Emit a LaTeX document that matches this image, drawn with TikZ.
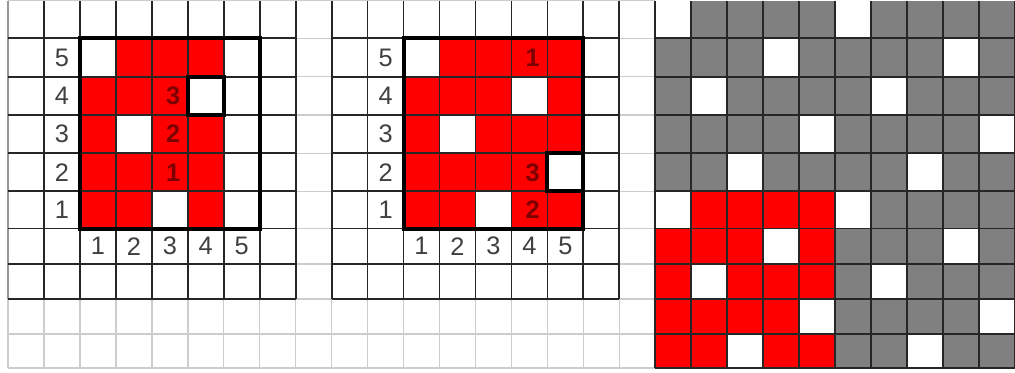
\documentclass[tikz,border=0pt]{standalone}
\usepackage{fontspec}
\setmainfont{Liberation Sans}
\usetikzlibrary{calc}
\definecolor{cellred}{RGB}{255,0,0}
\definecolor{cellgray}{RGB}{128,128,128}
\definecolor{lightline}{RGB}{205,205,205}
\definecolor{midline}{RGB}{150,150,150}
\definecolor{labelred}{RGB}{125,0,0}
\begin{document}
\begin{tikzpicture}[x=0.75pt,y=-0.75pt,
  darkline/.style={line width=1.3pt,black!85},
  softline/.style={line width=1.1pt,lightline},
  edgeline/.style={line width=1.2pt,midline},
  blockborder/.style={line width=3pt,black,line join=miter},
  axislabel/.style={font=\fontsize{19}{21}\selectfont,text=black!75,inner sep=0pt},
  steplabel/.style={font=\fontsize{19}{21}\selectfont\bfseries,text=labelred,inner sep=0pt,xshift=2.5pt}]
\useasboundingbox (0,0) rectangle (1015,372);
\fill[white] (0,0) rectangle (1015,372);
% grid points
\foreach \r/\yy in {0/0.5,1/38.3,2/76.7,3/115,4/153.3,5/191.3,6/228.5,7/264,8/299,9/334,10/368}{
  \foreach \k in {0,...,28}{
    \coordinate (p\k-\r) at ({8+35.96*\k},\yy);
  }
}
% ---------- left block fills ----------
\foreach \k/\r in {3/1,4/1,5/1, 2/2,3/2,4/2, 2/3,4/3,5/3, 2/4,3/4,4/4,5/4, 2/5,3/5,5/5}{
  \pgfmathtruncatemacro\kk{\k+1}\pgfmathtruncatemacro\rr{\r+1}
  \fill[cellred] (p\k-\r) rectangle (p\kk-\rr);
}
% ---------- middle block fills ----------
\foreach \k/\r in {12/1,13/1,14/1,15/1, 11/2,12/2,13/2,15/2, 11/3,13/3,14/3,15/3, 11/4,12/4,13/4,14/4, 11/5,12/5,14/5,15/5}{
  \pgfmathtruncatemacro\kk{\k+1}\pgfmathtruncatemacro\rr{\r+1}
  \fill[cellred] (p\k-\r) rectangle (p\kk-\rr);
}
% ---------- right tiled grid ----------
\fill[cellgray] (p18-0) rectangle (p28-10);
\fill[cellred] (p18-5) rectangle (p23-10);
\foreach \ox/\oy in {0/0,5/0,0/5,5/5}{
  \foreach \c/\r in {0/0,3/1,1/2,4/3,2/4}{
    \pgfmathtruncatemacro\k{18+\ox+\c}\pgfmathtruncatemacro\kk{\k+1}
    \pgfmathtruncatemacro\rw{\oy+\r}\pgfmathtruncatemacro\rr{\rw+1}
    \fill[white] (p\k-\rw) rectangle (p\kk-\rr);
  }
}
% ---------- light grid everywhere on the left part ----------
\foreach \k in {0,...,18}{ \draw[softline] (p\k-0) -- (p\k-10); }
\foreach \r in {0,...,10}{ \draw[softline] (p0-\r) -- (p18-\r); }
% ---------- dark grids ----------
\draw[edgeline] (p0-0) -- (p0-8);
\foreach \k in {1,...,8}{ \draw[darkline] (p\k-0) -- (p\k-8); }
\foreach \r in {1,...,8}{ \draw[darkline] (p0-\r) -- (p8-\r); }
\foreach \k in {9,...,17}{ \draw[darkline] (p\k-0) -- (p\k-8); }
\foreach \r in {1,...,8}{ \draw[darkline] (p9-\r) -- (p17-\r); }
\foreach \k in {18,...,28}{ \draw[darkline] (p\k-0) -- (p\k-10); }
\foreach \r in {1,...,10}{ \draw[darkline] (p18-\r) -- (p28-\r); }
% ---------- block borders ----------
\draw[blockborder] (p2-1) rectangle (p7-6);
\draw[blockborder] (p5-2) rectangle (p6-3);
\draw[blockborder] (p11-1) rectangle (p16-6);
\draw[blockborder] (p15-4) rectangle (p16-5);
% ---------- axis labels ----------
\foreach \k/\r/\t [count=\i] in {1/1/5,1/2/4,1/3/3,1/4/2,1/5/1, 2/6/1,3/6/2,4/6/3,5/6/4,6/6/5,
  10/1/5,10/2/4,10/3/3,10/4/2,10/5/1, 11/6/1,12/6/2,13/6/3,14/6/4,15/6/5}{
  \pgfmathtruncatemacro\kk{\k+1}\pgfmathtruncatemacro\rr{\r+1}
  \node[axislabel] (ax\i) at ($(p\k-\r)!.5!(p\kk-\rr)$) {\t};
}
% ---------- step labels ----------
\foreach \k/\r/\t [count=\i] in {4/2/3,4/3/2,4/4/1, 14/1/1,14/4/3,14/5/2}{
  \pgfmathtruncatemacro\kk{\k+1}\pgfmathtruncatemacro\rr{\r+1}
  \node[steplabel] (st\i) at ($(p\k-\r)!.5!(p\kk-\rr)$) {\t};
}
\end{tikzpicture}
\end{document}
